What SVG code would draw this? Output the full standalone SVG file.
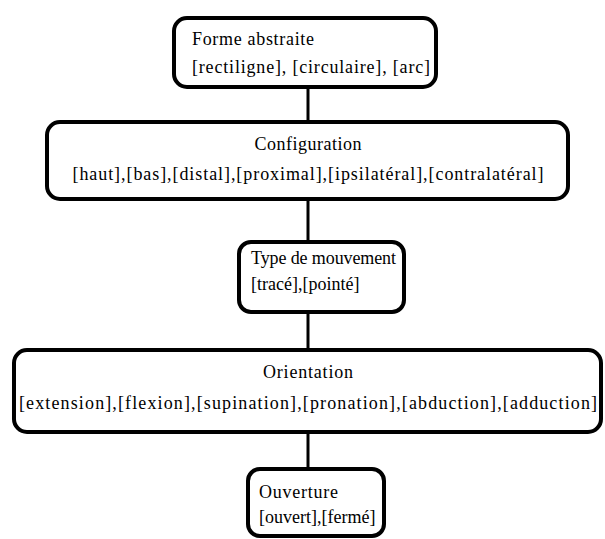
<svg xmlns="http://www.w3.org/2000/svg" width="605" height="539" viewBox="0 0 605 539">
<defs>
<style>
.box{fill:#fff;stroke:#000;stroke-width:4}
.c{text-anchor:middle}
.conn line{stroke:#000;stroke-width:3}
</style>
</defs>
<rect width="605" height="539" fill="#fff"/>
<g id="connectors" class="conn">
<line x1="308" y1="88" x2="308" y2="122"/>
<line x1="308" y1="200" x2="308" y2="242"/>
<line x1="308" y1="312" x2="308" y2="350"/>
<line x1="308" y1="432" x2="308" y2="469"/>
</g>
<g font-family="Liberation Serif, Times New Roman, DejaVu Serif, serif" font-size="18" fill="#000">
<g id="forme">
<rect class="box" x="174" y="18" width="262" height="69" rx="13"/>
<text x="192" y="45" textLength="122">Forme abstraite</text>
<text x="192" y="73" textLength="238">[rectiligne], [circulaire], [arc]</text>
</g>
<g id="configuration">
<rect class="box" x="47" y="122" width="521" height="77" rx="13"/>
<text class="c" x="308" y="150" textLength="107">Configuration</text>
<text class="c" x="308" y="180" textLength="471">[haut],[bas],[distal],[proximal],[ipsilatéral],[contralatéral]</text>
</g>
<g id="type">
<rect class="box" x="239" y="242" width="165" height="70" rx="12"/>
<text x="251" y="264" textLength="145">Type de mouvement</text>
<text x="251" y="290">[tracé],[pointé]</text>
</g>
<g id="orientation">
<rect class="box" x="14" y="350" width="587" height="82" rx="13"/>
<text class="c" x="308" y="378" textLength="90">Orientation</text>
<text class="c" x="308" y="409" textLength="578">[extension],[flexion],[supination],[pronation],[abduction],[adduction]</text>
</g>
<g id="ouverture">
<rect class="box" x="248" y="469" width="136" height="67" rx="12"/>
<text x="259" y="498" textLength="79">Ouverture</text>
<text x="259" y="523">[ouvert],[fermé]</text>
</g>
</g>
</svg>
